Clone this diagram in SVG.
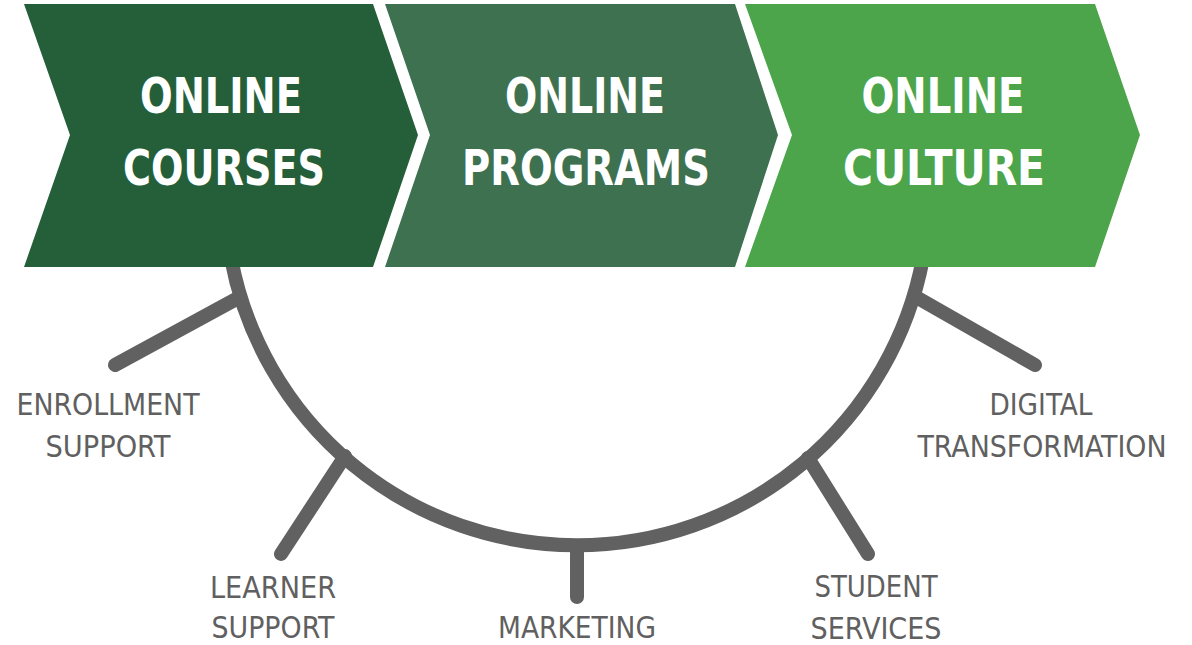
<svg xmlns="http://www.w3.org/2000/svg" width="1192" height="645" viewBox="0 0 1192 645">
<style>
.t{font-family:"DejaVu Sans Condensed","Liberation Sans",sans-serif;font-weight:bold;font-size:49px;fill:#ffffff;text-anchor:middle}
.l{font-family:"DejaVu Sans Condensed","Liberation Sans",sans-serif;font-size:31px;fill:#606060;text-anchor:middle}
.c{fill:none;stroke:#616161;stroke-width:14;stroke-linecap:round}
</style>
<rect width="1192" height="645" fill="#ffffff"/>
<g id="connectors">
<path class="c" d="M 231 258 A 352 352 0 0 0 923 258" stroke-linecap="butt"/>
<line class="c" x1="240" y1="297" x2="115" y2="365"/>
<line class="c" x1="345" y1="456" x2="281" y2="554"/>
<line class="c" x1="577" y1="546" x2="577" y2="597"/>
<line class="c" x1="808" y1="458" x2="868" y2="554"/>
<line class="c" x1="916" y1="297" x2="1035" y2="365"/>
</g>
<g id="online-courses">
<polygon points="24,4 373,4 418,135 373,267 24,267 70,135" fill="#245f3a"/>
<text class="t" x="221" y="113" textLength="162" lengthAdjust="spacingAndGlyphs">ONLINE</text>
<text class="t" x="224" y="185" textLength="202" lengthAdjust="spacingAndGlyphs">COURSES</text>
</g>
<g id="online-programs">
<polygon points="385,4 735,4 778,135 735,267 385,267 430,135" fill="#3e7150"/>
<text class="t" x="585" y="113" textLength="160" lengthAdjust="spacingAndGlyphs">ONLINE</text>
<text class="t" x="586" y="185" textLength="248" lengthAdjust="spacingAndGlyphs">PROGRAMS</text>
</g>
<g id="online-culture">
<polygon points="745,4 1095,4 1140,135 1095,267 745,267 792,135" fill="#4ca54b"/>
<text class="t" x="943" y="113" textLength="163" lengthAdjust="spacingAndGlyphs">ONLINE</text>
<text class="t" x="944" y="185" textLength="202" lengthAdjust="spacingAndGlyphs">CULTURE</text>
</g>
<g id="enrollment-support">
<text class="l" x="108" y="415" textLength="183" lengthAdjust="spacingAndGlyphs">ENROLLMENT</text>
<text class="l" x="108" y="457" textLength="125" lengthAdjust="spacingAndGlyphs">SUPPORT</text>
</g>
<g id="learner-support">
<text class="l" x="273" y="598" textLength="126" lengthAdjust="spacingAndGlyphs">LEARNER</text>
<text class="l" x="273" y="638" textLength="123" lengthAdjust="spacingAndGlyphs">SUPPORT</text>
</g>
<g id="marketing">
<text class="l" x="577" y="638" textLength="158" lengthAdjust="spacingAndGlyphs">MARKETING</text>
</g>
<g id="student-services">
<text class="l" x="876" y="597" textLength="123" lengthAdjust="spacingAndGlyphs">STUDENT</text>
<text class="l" x="876" y="639" textLength="131" lengthAdjust="spacingAndGlyphs">SERVICES</text>
</g>
<g id="digital-transformation">
<text class="l" x="1041" y="415" textLength="103" lengthAdjust="spacingAndGlyphs">DIGITAL</text>
<text class="l" x="1042" y="457" textLength="249" lengthAdjust="spacingAndGlyphs">TRANSFORMATION</text>
</g>
</svg>
